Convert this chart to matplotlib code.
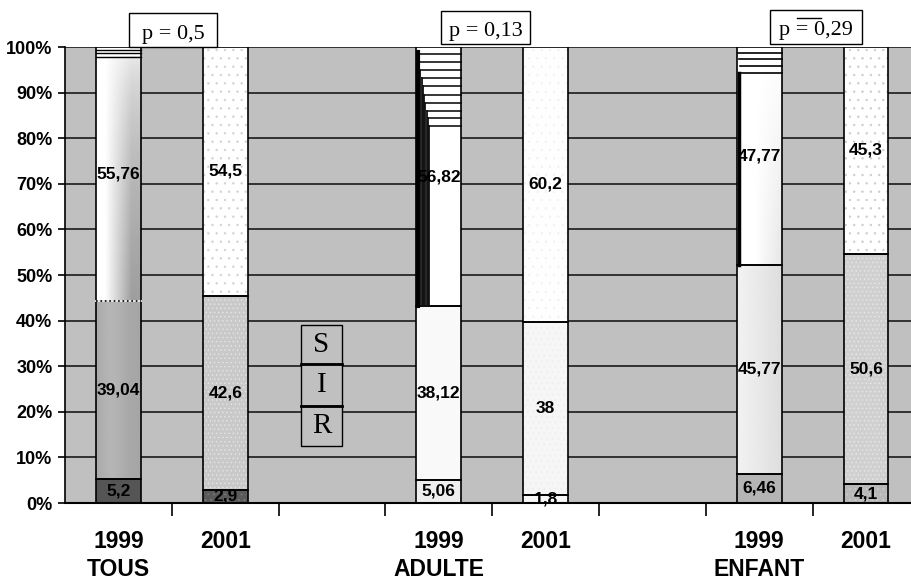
import numpy as np
import matplotlib
matplotlib.use("Agg")
import matplotlib.pyplot as plt
from matplotlib.patches import Rectangle
from matplotlib.lines import Line2D

# ---- data -------------------------------------------------------------
groups = ["TOUS", "ADULTE", "ENFANT"]
years = ["1999", "2001", "1999", "2001", "1999", "2001"]
positions = [0, 1, 3, 4, 6, 7]
r_vals = [5.2, 2.9, 5.06, 1.8, 6.46, 4.1]
i_vals = [39.04, 42.6, 38.12, 38.0, 45.77, 50.6]
s_vals = [55.76, 54.5, 56.82, 60.2, 47.77, 45.3]
p_values = ["0,5", "0,13", "0,29"]
legend_letters = ["S", "I", "R"]
yticks = list(range(0, 101, 10))

W, H = 911, 580
SANS = ["Liberation Sans", "DejaVu Sans"]
SERIF = ["Liberation Serif", "DejaVu Serif"]
plt.rcParams["hatch.linewidth"] = 0.5

fig = plt.figure(figsize=(W / 100, H / 100), dpi=100)
ax_left, ax_right, ax_top, ax_bot = 65, 911, 47, 503
ax = fig.add_axes([ax_left / W, 1 - ax_bot / H, (ax_right - ax_left) / W,
                   (ax_bot - ax_top) / H])
ax.set_facecolor("#c0c0c0")

BW = 0.42
xmin = -0.5
px = 106.8  # pixels per category slot
xmax = xmin + (ax_right - ax_left) / px


def fmt(v):
    return f"{v:g}".replace(".", ",")


def fig_rect(x0, y0, x1, y1, **kw):
    return Rectangle((x0 / W, 1 - y1 / H), (x1 - x0) / W, (y1 - y0) / H,
                     transform=fig.transFigure, **kw)


# horizontal grid
for t in yticks:
    ax.axhline(t, color="#1a1a1a", lw=1.2, zorder=1)


def gradient(x0, x1, y0, y1, func, z=2.5):
    nx, ny = 60, 120
    xs = np.linspace(0, 1, nx)
    ys = np.linspace(0, 1, ny)
    X, Y = np.meshgrid(xs, ys)
    arr = func(X, Y)
    ax.imshow(arr, extent=(x0, x1, y0, y1), origin="lower", cmap="gray",
              vmin=0, vmax=1, aspect="auto", zorder=z, interpolation="bilinear")


def segment(x, y0, h, fc, dots=None, hatch=".."):
    if dots is not None:
        ax.bar(x, h, BW, bottom=y0, color=fc, edgecolor=dots, hatch=hatch,
               lw=0, zorder=2)
    else:
        ax.bar(x, h, BW, bottom=y0, color=fc, lw=0, zorder=2)


# segment fills per bar: (R, I, S) -> (face, dot colour, hatch)
fills = [
    [("#555555", None, None), ("grad_mid", None, None), ("grad_s", None, None)],
    [("#5a5a5a", "#7a7a7a", "..."), ("#c9c9c9", "#e6e6e6", "...."),
     ("#ffffff", "#d2d2d2", "..")],
    [("#eeeeee", None, None), ("#f9f9f9", None, None), ("#ffffff", None, None)],
    [("#f8f8f8", None, None), ("#f6f6f6", "#ededed", "..."),
     ("#fefefe", "#f2f2f2", "..")],
    [("#b4b4b4", None, None), ("grad_light", None, None),
     ("grad_white", None, None)],
    [("#b8b8b8", "#cccccc", "..."), ("#d0d0d0", "#e8e8e8", "...."),
     ("#ffffff", "#cdcdcd", "..")],
]

for k, x in enumerate(positions):
    r, i, s = r_vals[k], i_vals[k], s_vals[k]
    bottoms = [0, r, r + i]
    heights = [r, i, s]
    x0, x1 = x - BW / 2, x + BW / 2
    for j in range(3):
        fc, dots, hatch = fills[k][j]
        y0, h = bottoms[j], heights[j]
        if fc == "grad_mid":
            segment(x, y0, h, "#aaaaaa")
            gradient(x0, x1, y0, y0 + h,
                     lambda X, Y: 0.65 + 0.06 * np.exp(-((X - 0.35) / 0.3) ** 2))
        elif fc == "grad_s":
            segment(x, y0, h, "#ffffff")
            gradient(x0, x1, y0, y0 + h,
                     lambda X, Y: 1 - 0.38 * np.clip((X - 0.2) / 0.6, 0, 1)
                     * (1 - Y) ** 0.45)
        elif fc == "grad_light":
            segment(x, y0, h, "#e8e8e8")
            gradient(x0, x1, y0, y0 + h, lambda X, Y: 0.95 - 0.08 * X)
        elif fc == "grad_white":
            segment(x, y0, h, "#ffffff")
            gradient(x0, x1, y0, y0 + h,
                     lambda X, Y: 1 - 0.1 * np.clip((X - 0.4) / 0.6, 0, 1) * (1 - Y))
        else:
            segment(x, y0, h, fc, dots, hatch)
        ax.add_patch(Rectangle((x0, y0), BW, h, fill=False, ec="black",
                               lw=1.2, zorder=4))
        if k == 0 and j == 2:
            ax.plot([x0, x1], [y0, y0], color="white", lw=1.3, zorder=4.1)
            ax.plot([x0, x1], [y0, y0], color="black", lw=1.2, ls=":",
                    zorder=4.2)
        ax.text(x, y0 + h / 2, fmt(heights[j]), ha="center", va="center",
                fontsize=12.5, fontweight="bold", family=SANS, zorder=6)

d = 1 / px  # one pixel in data x units

# tous 1999: rules near the top of the S segment
x0 = positions[0] - BW / 2
ax.add_patch(Rectangle((x0, 98.0), BW, 2.0, fc="white", lw=0, zorder=3))
for lvl in [99.3, 98.6, 97.9]:
    ax.plot([x0, x0 + BW], [lvl, lvl], color="black", lw=1.0, zorder=4.5)

# adulte 1999: stepped dark band on the left of the S segment
x0 = positions[2] - BW / 2
base = r_vals[2] + i_vals[2]
steps = [98.5, 96.7, 95.0, 93.2, 91.4, 89.5, 87.7, 86.0, 84.4, 82.7]
for n, lvl in enumerate(steps):
    off = (n + 1) * 1.3 * d
    ax.plot([x0 + off, x0 + BW], [lvl, lvl], color="black", lw=1.1, zorder=4.5)
    ax.plot([x0 + off, x0 + off], [base, lvl], color="#111111", lw=1.3,
            zorder=4.5)
ax.plot([x0 + 2 * d, x0 + 2 * d], [base, 99], color="black", lw=3, zorder=4.5)

# enfant 1999: rules at top and heavy left edge
x0 = positions[4] - BW / 2
base = r_vals[4] + i_vals[4]
for n, lvl in enumerate([98.7, 97.4, 95.8, 94.3]):
    off = (n + 1) * 1.0 * d
    ax.plot([x0 + off, x0 + BW], [lvl, lvl], color="black", lw=1.2, zorder=4.5)
ax.plot([x0 + 2.5 * d, x0 + 2.5 * d], [base, 94.3], color="black", lw=2.5,
        zorder=4.5)

ax.set_xlim(xmin, xmax)
ax.set_ylim(0, 100)

# axes styling
for side in ["top", "right"]:
    ax.spines[side].set_visible(False)
ax.spines["left"].set_linewidth(1.2)
ax.spines["bottom"].set_linewidth(1.5)
ax.set_yticks(yticks)
ax.set_yticklabels([f"{t}%" for t in yticks], fontsize=13, fontweight="bold",
                   family=SANS)
ax.tick_params(axis="y", direction="out", length=5, width=1.2, pad=4)
ax.set_xticks([xmin + n for n in range(1, 8)])
ax.set_xticklabels([])
ax.tick_params(axis="x", direction="out", length=9, width=1.2)

# category labels below the axis
tr = ax.get_xaxis_transform()
for k, x in enumerate(positions):
    ax.text(x, -(541 - ax_bot) / (ax_bot - ax_top), years[k], transform=tr,
            ha="center", va="center", fontsize=16.5, fontweight="bold",
            family=SANS)
for g, x in zip(groups, positions[::2]):
    ax.text(x, -(569 - ax_bot) / (ax_bot - ax_top), g, transform=tr,
            ha="center", va="center", fontsize=16.5, fontweight="bold",
            family=SANS)

# p-value boxes above the groups
boxes = [(129, 13, 217, 47), (441, 11, 530, 44), (770, 10, 862, 44)]
for (bx0, by0, bx1, by1), p in zip(boxes, p_values):
    fig.add_artist(fig_rect(bx0, by0, bx1, by1, fc="white", ec="black", lw=1.0))
    fig.text((bx0 + bx1) / 2 / W, 1 - (by0 + by1 + 8) / 2 / H, f"p = {p}",
             ha="center", va="center", fontsize=16, family=SERIF)
fig.add_artist(Line2D([797 / W, 821 / W], [1 - 18 / H, 1 - 18 / H],
                      transform=fig.transFigure, color="black", lw=1.0))

# S / I / R key boxes
key = [(301, 325, 342, 364), (301, 364, 342, 406), (301, 406, 342, 446)]
for (kx0, ky0, kx1, ky1), letter in zip(key, legend_letters):
    fig.add_artist(fig_rect(kx0, ky0, kx1, ky1, fc="#c0c0c0", ec="black",
                            lw=1.0, zorder=5))
    fig.text((kx0 + kx1) / 2 / W, 1 - (ky0 + ky1) / 2 / H, letter,
             ha="center", va="center", fontsize=21, family=SERIF, zorder=6)
for yy in [364, 406]:
    fig.add_artist(Line2D([301 / W, 342 / W], [1 - yy / H, 1 - yy / H],
                          transform=fig.transFigure, color="black", lw=2.0,
                          zorder=6))

fig.savefig("out.png", dpi=100, facecolor="white")
